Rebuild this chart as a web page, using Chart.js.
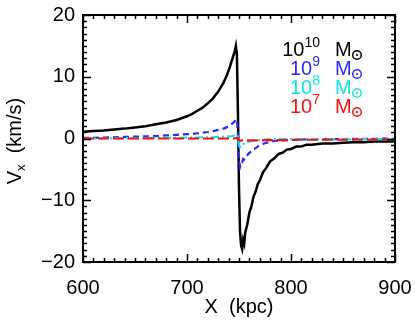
<!DOCTYPE html>
<html>
<head>
<meta charset="utf-8">
<script src="https://cdn.jsdelivr.net/npm/chart.js@4.4.1/dist/chart.umd.min.js"></script>
<style>
html, body { margin: 0; padding: 0; background: #fff; }
</style>
</head>
<body>
<canvas id="c" width="415" height="320"></canvas>
<script>
// positions along the sightline (kpc)
const xKpc = [
  600, 610, 620, 630, 640, 650, 660, 670, 680, 690,
  700, 705, 710, 715, 720, 725, 730, 735, 738, 741,
  744, 746, 747, 748, 749, 750, 751, 752, 753, 754,
  755, 756, 758, 760, 762, 764, 766, 768, 770, 773,
  776, 780, 784, 788, 792, 796, 800, 805, 810, 815,
  820, 830, 840, 850, 860, 870, 880, 890, 900
];
// V_x (km/s) for each halo mass
const vx1e10 = [
  1.1, 1.2, 1.3, 1.45, 1.6, 1.8, 2.0, 2.3, 2.6, 3.0,
  3.6, 4.0, 4.5, 5.0, 5.7, 6.5, 7.6, 9.0, 10.1, 11.5,
  13.1, 14.2, 15.0, 13.6, 4.0, -8.0, -15.0, -17.3, -17.9, -16.4,
  -17.0, -15.2, -13.9, -12.0, -10.9, -9.4, -8.6, -7.4, -6.8, -5.5,
  -4.8, -3.7, -3.2, -2.5, -2.3, -1.8, -1.7, -1.3, -1.3, -1.0,
  -1.0, -0.8, -0.8, -0.7, -0.6, -0.6, -0.5, -0.5, -0.5
];
const vx1e9 = [
  0.1, 0.1, 0.15, 0.2, 0.25, 0.3, 0.35, 0.4, 0.5, 0.6,
  0.7, 0.75, 0.85, 0.95, 1.05, 1.2, 1.4, 1.6, 1.8, 2.1,
  2.5, 2.8, 3.1, 3.0, 0.5, -3.5, -4.6, -4.0, -3.9, -3.3,
  -3.4, -3.0, -2.7, -2.3, -2.1, -1.7, -1.6, -1.3, -1.1, -0.9,
  -0.7, -0.55, -0.4, -0.35, -0.3, -0.25, -0.2, -0.2, -0.15, -0.15,
  -0.1, -0.1, -0.1, -0.1, -0.05, -0.05, -0.05, 0, 0
];
const vx1e8 = [
  0, 0, 0, 0.05, 0.05, 0.05, 0.1, 0.1, 0.1, 0.1,
  0.15, 0.15, 0.15, 0.2, 0.2, 0.2, 0.25, 0.3, 0.3, 0.35,
  0.4, 0.5, 0.6, 0.6, 0.2, -1.0, -1.4, -1.2, -1.0, -0.9,
  -0.8, -0.7, -0.6, -0.5, -0.4, -0.35, -0.3, -0.25, -0.2, -0.2,
  -0.15, -0.15, -0.1, -0.1, -0.1, -0.1, -0.1, -0.1, -0.1, -0.1,
  -0.1, -0.1, -0.1, -0.1, -0.1, -0.1, -0.1, -0.1, -0.1
];
const vx1e7 = [
  0, 0, 0, 0, 0, 0, 0, 0, 0, 0,
  0, 0, 0, 0, 0, 0, 0, 0, 0, 0,
  0, 0, 0.05, 0.05, -0.1, -0.3, -0.35, -0.35, -0.3, -0.3,
  -0.3, -0.3, -0.3, -0.3, -0.3, -0.3, -0.3, -0.3, -0.3, -0.3,
  -0.25, -0.25, -0.25, -0.25, -0.25, -0.25, -0.25, -0.2, -0.2, -0.2,
  -0.2, -0.2, -0.2, -0.2, -0.2, -0.2, -0.2, -0.2, -0.2
];
const massExponents = ['10', '9', '8', '7'];
const seriesColors = ['#000000', '#2a2aff', '#12e4e4', '#ff1010'];

const FONT = '"Liberation Sans", Arial, Helvetica, sans-serif';

function pts(arr) {
  return xKpc.map((x, i) => ({ x: x, y: arr[i] }));
}

// frame, inward ticks on all four sides, titles and the mass legend
const decorPlugin = {
  id: 'decor',
  afterDatasetsDraw(chart) {
    const { ctx, chartArea: a, scales: { x, y } } = chart;
    ctx.save();
    ctx.strokeStyle = '#000';
    ctx.lineWidth = 2;
    ctx.strokeRect(a.left, a.top, a.right - a.left, a.bottom - a.top);

    ctx.lineWidth = 1.5;
    ctx.beginPath();
    for (let v = 600; v <= 900; v += 10) {
      const px = Math.round(x.getPixelForValue(v)) + 0.5;
      const len = v % 100 === 0 ? 8 : 4;
      ctx.moveTo(px, a.bottom); ctx.lineTo(px, a.bottom - len);
      ctx.moveTo(px, a.top); ctx.lineTo(px, a.top + len);
    }
    for (let v = -20; v <= 20; v += 1) {
      const py = Math.round(y.getPixelForValue(v)) + 0.5;
      const len = v % 10 === 0 ? 8 : 4;
      ctx.moveTo(a.left, py); ctx.lineTo(a.left + len, py);
      ctx.moveTo(a.right, py); ctx.lineTo(a.right - len, py);
    }
    ctx.stroke();

    // x title
    ctx.fillStyle = '#000';
    ctx.font = '20px ' + FONT;
    ctx.textAlign = 'center';
    ctx.textBaseline = 'alphabetic';
    ctx.fillText('X  (kpc)', (a.left + a.right) / 2, 313);

    // y title, rotated, with subscript x
    ctx.save();
    ctx.translate(21, 141);
    ctx.rotate(-Math.PI / 2);
    ctx.textAlign = 'left';
    ctx.font = '20px ' + FONT;
    const wV = ctx.measureText('V').width;
    ctx.font = '13px ' + FONT;
    const wSub = ctx.measureText('x').width;
    ctx.font = '20px ' + FONT;
    const rest = '  (km/s)';
    const wRest = ctx.measureText(rest).width;
    let cx = -(wV + wSub + wRest) / 2;
    ctx.fillText('V', cx, 0);
    cx += wV;
    ctx.font = '13px ' + FONT;
    ctx.fillText('x', cx, 4);
    cx += wSub;
    ctx.font = '20px ' + FONT;
    ctx.fillText(rest, cx, 0);
    ctx.restore();

    // legend
    const baselines = [56, 75, 94, 113];
    massExponents.forEach((ex, i) => {
      const b = baselines[i];
      ctx.fillStyle = seriesColors[i];
      ctx.strokeStyle = seriesColors[i];
      ctx.font = '14px ' + FONT;
      ctx.textAlign = 'right';
      ctx.fillText(ex, 320, b - 9);
      const wEx = ctx.measureText(ex).width;
      ctx.font = '20px ' + FONT;
      ctx.fillText('10', 320 - wEx, b);
      ctx.textAlign = 'left';
      ctx.fillText('M', 335, b);
      ctx.lineWidth = 1.5;
      ctx.beginPath();
      ctx.arc(357, b - 1, 4.3, 0, Math.PI * 2);
      ctx.stroke();
      ctx.beginPath();
      ctx.arc(357, b - 1, 1.1, 0, Math.PI * 2);
      ctx.fill();
    });
    ctx.restore();
  }
};

new Chart(document.getElementById('c'), {
  type: 'line',
  data: {
    datasets: [
      { data: pts(vx1e10), borderColor: seriesColors[0], borderWidth: 2.5, order: 3 },
      { data: pts(vx1e9), borderColor: seriesColors[1], borderWidth: 2.2, borderDash: [6, 4], order: 2 },
      { data: pts(vx1e8), borderColor: seriesColors[2], borderWidth: 2.2, borderDash: [8, 3, 2, 3], order: 1 },
      { data: pts(vx1e7), borderColor: seriesColors[3], borderWidth: 2.2, borderDash: [11, 4], order: 0 }
    ]
  },
  options: {
    responsive: false,
    animation: false,
    events: [],
    elements: { point: { radius: 0 }, line: { tension: 0, fill: false } },
    layout: { padding: { top: 15, right: 20, left: 0, bottom: 0 } },
    plugins: { legend: { display: false }, tooltip: { enabled: false } },
    scales: {
      x: {
        type: 'linear', min: 600, max: 900,
        grid: { display: false, drawTicks: false }, border: { display: false },
        ticks: { stepSize: 100, padding: 14, color: '#000', font: { family: FONT, size: 20 }, maxRotation: 0 },
        afterFit: s => { s.height = 58; s.paddingLeft = 0; s.paddingRight = 0; }
      },
      y: {
        type: 'linear', min: -20, max: 20,
        grid: { display: false, drawTicks: false }, border: { display: false },
        ticks: { stepSize: 10, padding: 8, color: '#000', font: { family: FONT, size: 20 },
          callback: v => String(v).replace('-', '\u2212') },
        afterFit: s => { s.width = 83; s.paddingTop = 0; s.paddingBottom = 0; }
      }
    }
  },
  plugins: [decorPlugin]
});
</script>
</body>
</html>
